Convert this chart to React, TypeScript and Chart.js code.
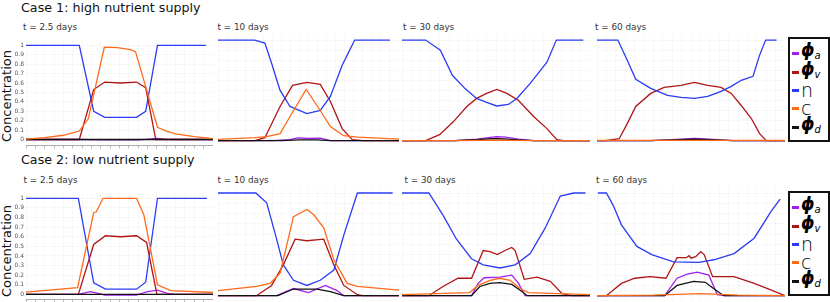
import React, { useEffect, useRef } from "react";
import { Chart, registerables } from "chart.js";
Chart.register(...registerables);

type Pt = [number, number];

// ---------- Case 1: high nutrient supply ----------
// t = 2.5 days
const c1a_phiA: Pt[] = [[0,0],[28.5,0],[40,-0.005],[60,-0.005],[66,0.005],[70,0.012],[74,0.004],[78,0],[100,0]];
const c1a_phiV: Pt[] = [[0,0],[28.5,0],[36.2,0.53],[42.1,0.61],[50.5,0.6],[59.1,0.61],[64,0.55],[69.4,0],[100,0]];
const c1a_n: Pt[] = [[0,1],[28.5,1],[36.2,0.3],[42.1,0.235],[59.1,0.235],[64,0.3],[70.3,1],[96.2,1]];
const c1a_c: Pt[] = [[0,0.005],[10,0.02],[20,0.045],[28.5,0.09],[33.3,0.22],[41.9,0.98],[48.9,0.975],[55.9,0.955],[58.6,0.93],[70.3,0.13],[75,0.09],[80,0.06],[90,0.03],[100,0.01]];
const c1a_phiD: Pt[] = [[0,0],[100,0]];
// t = 10 days
const c1b_phiA: Pt[] = [[0,0],[30,0],[39.8,0.01],[44,0.028],[50,0.022],[56.5,0.026],[62.1,0],[100,0]];
const c1b_phiV: Pt[] = [[0,0],[20.3,0],[25.9,0.03],[34.3,0.34],[41.2,0.55],[49.1,0.58],[56.5,0.56],[62.1,0.39],[68.6,0.12],[74.2,0.01],[80,0],[100,0]];
const c1b_n: Pt[] = [[0,1],[20.3,1],[25.9,0.97],[29.6,0.77],[34.3,0.5],[39.8,0.34],[49.1,0.27],[56.5,0.3],[62.1,0.44],[68.6,0.75],[71.4,0.85],[75.5,1],[95,1]];
const c1b_c: Pt[] = [[0,0.014],[20.3,0.03],[26.9,0.04],[34.3,0.07],[39.8,0.24],[48.7,0.51],[56.5,0.3],[62.1,0.14],[69.4,0.05],[77,0.035],[100,0.015]];
const c1b_phiD: Pt[] = [[0,0],[35,0],[45,0.008],[55,0.008],[62,0],[100,0]];
// t = 30 days
const c1c_phiA: Pt[] = [[0,0],[28,0],[40,0.015],[46,0.03],[50.4,0.04],[55,0.035],[62,0.015],[70,0],[100,0]];
const c1c_phiV: Pt[] = [[0,0],[12.6,0],[20,0.06],[27.4,0.19],[34.5,0.34],[39.7,0.42],[45,0.47],[50.4,0.51],[55.8,0.47],[62,0.4],[70,0.24],[77.1,0.12],[82.4,0.01],[86,0],[100,0]];
const c1c_n: Pt[] = [[0,1],[12.6,1],[20.4,0.9],[26.8,0.65],[33.4,0.52],[39.7,0.42],[45,0.38],[50.4,0.345],[56.6,0.36],[61.1,0.42],[68.2,0.57],[77.1,0.78],[82.1,1],[96.4,1]];
const c1c_c: Pt[] = [[0,0],[30,0],[50,0.005],[70,0],[100,0]];
const c1c_phiD: Pt[] = [[0,0],[28,0],[40,0.01],[50,0.022],[60,0.01],[70,0],[100,0]];
// t = 60 days
const c1d_phiA: Pt[] = [[0,0],[28.6,0],[40,0.01],[51.8,0.022],[60,0.015],[72,0],[100,0]];
const c1d_phiV: Pt[] = [[0,0],[4.5,0],[11.8,0.02],[16.1,0.17],[20.6,0.34],[28.6,0.47],[35.7,0.53],[44.7,0.55],[51.8,0.58],[58.9,0.55],[66,0.53],[71.4,0.47],[76.7,0.35],[82.1,0.22],[86.5,0.07],[90,0],[100,0]];
const c1d_n: Pt[] = [[0,1],[11.1,1],[16.1,0.8],[20.6,0.61],[28.6,0.52],[37.5,0.45],[44.7,0.43],[51.8,0.42],[58.9,0.44],[66,0.49],[71.4,0.54],[76.7,0.6],[83,0.64],[86.5,0.85],[89.7,1],[95.5,1]];
const c1d_c: Pt[] = [[0,0.003],[100,0.003]];
const c1d_phiD: Pt[] = [[0,0],[28.6,0],[40,0.008],[51.8,0.015],[60,0.01],[72,0],[100,0]];

// ---------- Case 2: low nutrient supply ----------
// t = 2.5 days
const c2a_phiA: Pt[] = [[0,0],[28,0],[34.4,0.03],[39.8,0.005],[42,-0.008],[59,-0.008],[65,0.03],[70.3,0.045],[75.6,0.01],[80,0],[100,0]];
const c2a_phiV: Pt[] = [[0,0],[28,0],[36.2,0.52],[42.5,0.61],[50.5,0.6],[59.1,0.61],[64.5,0.54],[70,0],[100,0]];
const c2a_n: Pt[] = [[0,1],[28,1],[36.2,0.12],[42.5,0.055],[59.1,0.055],[64,0.127],[70.3,1],[96.8,1]];
const c2a_c: Pt[] = [[0,0.023],[27.6,0.07],[36.2,0.85],[37.6,0.86],[41.2,1],[59.1,1],[63,0.83],[70.3,0.1],[77.4,0.04],[100,0.02]];
const c2a_phiD: Pt[] = [[0,0],[100,0]];
// t = 10 days
const c2b_phiA: Pt[] = [[0,0],[32.4,0],[41.7,0.07],[50,0.03],[59.3,0.1],[65.8,0.05],[69.5,0],[100,0]];
const c2b_phiV: Pt[] = [[0,0],[21.3,0],[29.6,0.1],[36.1,0.3],[42.6,0.55],[49.1,0.535],[58.4,0.55],[64,0.3],[69.5,0.1],[77,0.01],[80,0],[100,0]];
const c2b_n: Pt[] = [[0,1],[20.9,1],[26.9,0.905],[31.5,0.61],[36.1,0.3],[41.7,0.15],[49.1,0.1],[56.5,0.15],[64,0.25],[69.5,0.59],[77,1],[96.5,1]];
const c2b_c: Pt[] = [[0,0.05],[21.3,0.09],[28.7,0.12],[34.3,0.22],[41.7,0.77],[49.1,0.84],[52.8,0.79],[58.4,0.66],[64,0.35],[71.4,0.12],[77,0.09],[100,0.055]];
const c2b_phiD: Pt[] = [[0,0],[33.1,0],[41.7,0.065],[54.6,0.065],[62.1,0.04],[69.5,0],[100,0]];
// t = 30 days
const c2c_phiA: Pt[] = [[0,0],[37,0],[40.5,0.12],[43.7,0.175],[52.1,0.18],[58.4,0.2],[62,0.12],[65.5,0],[100,0]];
const c2c_phiV: Pt[] = [[0,0],[14.3,0],[21.8,0.09],[29.8,0.17],[37,0.17],[43.2,0.44],[46.8,0.43],[50.7,0.4],[54.8,0.44],[58.4,0.47],[60.2,0.44],[65,0.16],[71.8,0.18],[78.9,0.14],[85.2,0.02],[90.5,0],[100,0]];
const c2c_n: Pt[] = [[0,1],[14.3,1],[21.8,0.785],[29,0.55],[37,0.36],[43.2,0.3],[52.1,0.27],[60.2,0.3],[68.2,0.41],[76.2,0.66],[84.2,0.97],[91.3,1],[97.6,1]];
const c2c_c: Pt[] = [[0,0.01],[36,0.03],[40.5,0.1],[46.8,0.15],[52.1,0.17],[57.5,0.15],[62.8,0.07],[67.3,0.03],[100,0.01]];
const c2c_phiD: Pt[] = [[0,0],[37,0],[41.4,0.09],[46.8,0.12],[52.1,0.127],[58.4,0.11],[63.8,0.04],[66.6,0],[100,0]];
// t = 60 days
const c2d_phiA: Pt[] = [[0,0],[36,0],[42.6,0.17],[48,0.21],[53.3,0.23],[59.5,0.2],[64,0.01],[68,0],[100,0]];
const c2d_phiV: Pt[] = [[0,0],[5,0],[13,0.12],[20.1,0.17],[28.2,0.185],[36.7,0.17],[42.6,0.37],[47.5,0.37],[49,0.39],[50,0.365],[52.5,0.38],[55.2,0.43],[57,0.4],[61.5,0.185],[72.9,0.185],[83.6,0.12],[93.4,0.05],[100,0]];
const c2d_n: Pt[] = [[0.5,1],[5,1],[8.6,0.88],[13,0.69],[21.2,0.48],[29.1,0.4],[40.7,0.33],[54.1,0.325],[62.2,0.35],[72.9,0.41],[83.6,0.56],[92.6,0.82],[97.4,0.94]];
const c2d_c: Pt[] = [[0,0],[30,0.005],[55,0.02],[75,0.005],[100,0]];
const c2d_phiD: Pt[] = [[0,0],[36,0],[42.6,0.1],[51.4,0.14],[57.6,0.13],[62,0.07],[67.4,0],[100,0]];

const caseTitles = ["Case 1: high nutrient supply", "Case 2: low nutrient supply"];
const timeLabels = ["t = 2.5 days", "t = 10 days", "t = 30 days", "t = 60 days"];
const yTickValues = [0, 0.1, 0.2, 0.3, 0.4, 0.5, 0.6, 0.7, 0.8, 0.9, 1];
const xTickValues = [0, 5, 10, 15, 20, 25, 30, 35, 40, 45, 50, 55, 60, 65, 70, 75, 80, 85, 90, 95, 100];
const seriesNames = ["phi_a", "phi_v", "n", "c", "phi_d"];
const seriesColors = ["#a020f0", "#b01515", "#2a3cf5", "#ff6a1a", "#111111"];
const seriesOrder = [4, 3, 2, 0, 1];
const legendMain = ["ϕ", "ϕ", "n", "c", "ϕ"];
const legendSub = ["a", "v", "", "", "d"];

const panelData: Pt[][][][] = [
  [
    [c1a_phiA, c1a_phiV, c1a_n, c1a_c, c1a_phiD],
    [c1b_phiA, c1b_phiV, c1b_n, c1b_c, c1b_phiD],
    [c1c_phiA, c1c_phiV, c1c_n, c1c_c, c1c_phiD],
    [c1d_phiA, c1d_phiV, c1d_n, c1d_c, c1d_phiD],
  ],
  [
    [c2a_phiA, c2a_phiV, c2a_n, c2a_c, c2a_phiD],
    [c2b_phiA, c2b_phiV, c2b_n, c2b_c, c2b_phiD],
    [c2c_phiA, c2c_phiV, c2c_n, c2c_c, c2c_phiD],
    [c2d_phiA, c2d_phiV, c2d_n, c2d_c, c2d_phiD],
  ],
];

// layout
const colLeft = [26, 218, 402, 597];
const colWidth = [186, 180, 187, 187];
const rowTop = [35, 188];
const rowBottom = [147, 301];
const rowYMin = [-0.0626, -0.0516];
const rowYMax = [1.05, 1.0487];
const FONT = "'DejaVu Sans', sans-serif";
const GRID = "rgba(0,0,0,0.03)";

function Panel({ row, col }: { row: number; col: number }) {
  const ref = useRef<HTMLCanvasElement>(null);
  const first = col === 0;
  const yW = first ? 14 : 0;
  const xH = first ? 4 : 1;
  const L = colLeft[col];
  const W = colWidth[col];
  const T = rowTop[row];
  const H = rowBottom[row] - T;
  const cw = W + yW + 1;
  const ch = H + xH;
  useEffect(() => {
    const series = panelData[row][col];
    const chart = new Chart(ref.current as HTMLCanvasElement, {
      type: "line",
      data: {
        datasets: series.map((pts, i) => ({
          label: seriesNames[i],
          data: pts.map(([x, y]) => ({ x, y })),
          borderColor: seriesColors[i],
          backgroundColor: seriesColors[i],
          borderWidth: 1.3,
          pointRadius: 0,
          tension: 0,
          fill: false,
          order: seriesOrder[i],
        })),
      },
      options: {
        animation: false,
        responsive: false,
        maintainAspectRatio: false,
        events: [],
        layout: { padding: 0 },
        plugins: { legend: { display: false }, tooltip: { enabled: false } },
        scales: {
          x: {
            type: "linear",
            min: 0,
            max: 100,
            afterBuildTicks: (ax: any) => {
              ax.ticks = xTickValues.map((v) => ({ value: v }));
            },
            ticks: { display: false },
            grid: { color: GRID, drawTicks: first, tickLength: 3, tickColor: "#bbb" },
            border: { display: first, color: "#aaa", width: 1 },
            afterFit: (ax: any) => {
              ax.height = xH;
            },
          },
          y: {
            type: "linear",
            min: rowYMin[row],
            max: rowYMax[row],
            afterBuildTicks: (ax: any) => {
              ax.ticks = yTickValues.map((v) => ({ value: v }));
            },
            ticks: {
              display: first,
              font: { family: FONT, size: 6 },
              color: "#555",
              padding: 2,
              callback: (v: any) => String(Number(Number(v).toFixed(1))),
            },
            grid: { color: GRID, drawTicks: false },
            border: { display: false },
            afterFit: (ax: any) => {
              ax.width = yW;
            },
          },
        },
      },
    } as any);
    return () => chart.destroy();
  }, [row, col]);
  return (
    <canvas
      ref={ref}
      width={cw}
      height={ch}
      style={{ position: "absolute", left: L - yW, top: T, width: cw, height: ch }}
    />
  );
}

function Legend({ top }: { top: number }) {
  const offs = [16, 35, 53, 71, 90];
  return (
    <div
      style={{
        position: "absolute",
        left: 788,
        top,
        width: 42,
        height: 105,
        border: "2px solid #111",
        boxSizing: "border-box",
        background: "#fff",
      }}
    >
      {legendMain.map((m, i) => {
        const isPhi = m === "ϕ";
        return (
          <div
            key={i}
            style={{
              position: "absolute",
              left: 2,
              top: offs[i] - 2 - 12,
              height: 24,
              display: "flex",
              alignItems: "center",
              whiteSpace: "nowrap",
            }}
          >
            <span style={{ display: "inline-block", width: 7, height: 3, background: seriesColors[i] }} />
            <span
              style={{
                marginLeft: 2,
                fontFamily: FONT,
                fontSize: isPhi ? 17 : 19,
                fontStyle: isPhi ? "italic" : "normal",
                fontWeight: isPhi ? 700 : 300,
                color: "#000",
                lineHeight: "24px",
              }}
            >
              {m}
              {legendSub[i] ? (
                <span style={{ fontSize: 10, fontWeight: 400, fontStyle: "italic", verticalAlign: -3 }}>
                  {legendSub[i]}
                </span>
              ) : null}
            </span>
          </div>
        );
      })}
    </div>
  );
}

export default function App() {
  const titleTops = [2, 153.5];
  const subTops = [22.6, 176];
  const subLefts = [[23, 217.5, 403, 595], [23.5, 217.5, 404.5, 596]];
  const concCenters = [96, 251];
  const legendTops = [37, 191];
  return (
    <div
      style={{
        position: "absolute",
        left: 0,
        top: 0,
        width: 830,
        height: 302,
        overflow: "hidden",
        background: "#fff",
        fontFamily: FONT,
      }}
    >
      {[0, 1].map((r) => (
        <React.Fragment key={r}>
          <div
            style={{
              position: "absolute",
              left: 21,
              top: titleTops[r],
              fontSize: 12.7,
              lineHeight: 1,
              color: "#111",
              whiteSpace: "nowrap",
            }}
          >
            {caseTitles[r]}
          </div>
          {timeLabels.map((t, c) => (
            <div
              key={c}
              style={{
                position: "absolute",
                left: subLefts[r][c],
                top: subTops[r],
                fontSize: 8.8,
                lineHeight: 1,
                color: "#333",
                whiteSpace: "nowrap",
              }}
            >
              {t}
            </div>
          ))}
          <div
            style={{
              position: "absolute",
              left: 7 - 60,
              top: concCenters[r] - 8,
              width: 120,
              height: 16,
              lineHeight: "16px",
              textAlign: "center",
              fontSize: 13,
              color: "#111",
              transform: "rotate(-90deg)",
              whiteSpace: "nowrap",
            }}
          >
            Concentration
          </div>
          {[0, 1, 2, 3].map((c) => (
            <Panel key={c} row={r} col={c} />
          ))}
          <Legend top={legendTops[r]} />
        </React.Fragment>
      ))}
    </div>
  );
}
